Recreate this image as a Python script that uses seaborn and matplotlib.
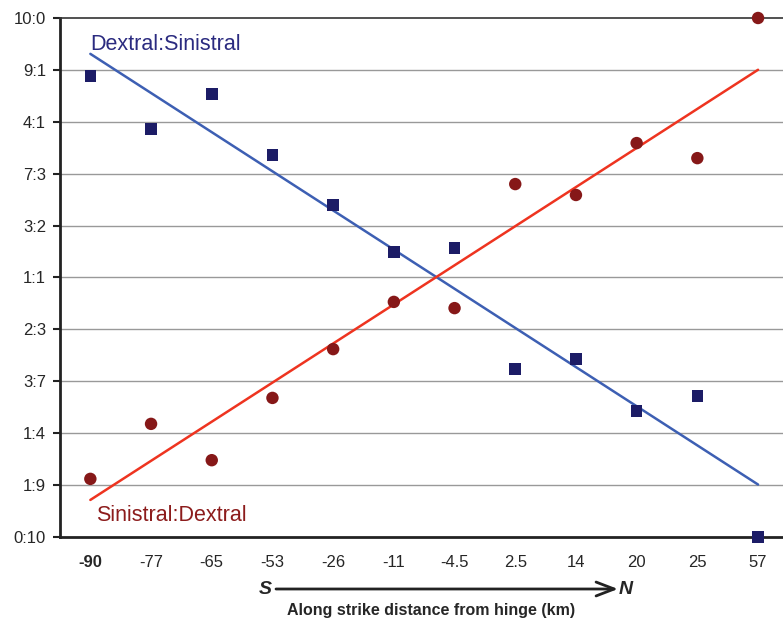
import numpy as np
import pandas as pd
import matplotlib.pyplot as plt
import seaborn as sns

distance = ["-90", "-77", "-65", "-53", "-26", "-11", "-4.5", "2.5", "14", "20", "25", "57"]
dextral_sinistral = [8.88, 7.86, 8.54, 7.36, 6.40, 5.49, 5.57, 3.24, 3.43, 2.43, 2.72, 0.0]
sinistral_dextral = [1.12, 2.18, 1.48, 2.68, 3.62, 4.53, 4.41, 6.80, 6.59, 7.59, 7.30, 10.0]
ratio_labels = ["0:10", "1:9", "1:4", "3:7", "2:3", "1:1", "3:2", "7:3", "4:1", "9:1", "10:0"]

df = pd.DataFrame({
    "pos": np.arange(len(distance)),
    "ds": dextral_sinistral,
    "sd": sinistral_dextral,
})

sns.set_style("white")
plt.rcParams["font.family"] = ["Liberation Sans", "DejaVu Sans"]

fig = plt.figure(figsize=(7.83, 6.21), dpi=100)
ax = fig.add_axes([60 / 783, 84 / 621, 723 / 783, 519 / 621])

for v in range(1, 10):
    ax.axhline(v, color="#999999", lw=1, zorder=0)

sns.regplot(data=df, x="pos", y="ds", ci=None, scatter=False, truncate=True,
            line_kws={"color": "#3d5fb3", "lw": 1.8}, ax=ax)
sns.regplot(data=df, x="pos", y="sd", ci=None, scatter=False, truncate=True,
            line_kws={"color": "#ee3420", "lw": 1.8}, ax=ax)
sns.scatterplot(data=df, x="pos", y="ds", marker="s", s=70, color="#1c1c66",
                edgecolor="none", ax=ax, zorder=5, clip_on=False)
sns.scatterplot(data=df, x="pos", y="sd", marker="o", s=80, color="#861818",
                edgecolor="none", ax=ax, zorder=5, clip_on=False)

ax.set_xlim(-0.5, -0.5 + 723 / 60.7)
ax.set_ylim(0, 10)
ax.set_yticks(range(11))
ax.set_yticklabels(ratio_labels, fontsize=12)
ax.set_xticks(df["pos"])
ax.set_xticklabels(distance, fontsize=12)
ax.get_xticklabels()[0].set_fontweight("bold")
ax.set_xticks(np.arange(-0.5, 11.5, 1), minor=True)
ax.tick_params(axis="x", which="major", length=0, pad=13)
ax.tick_params(axis="x", which="minor", length=5, width=1.5, color="#222222", direction="out")
ax.tick_params(axis="y", length=5, width=1.5, color="#222222", direction="out", left=True, pad=5)
ax.set_xlabel("")
ax.set_ylabel("")

for side in ["left", "bottom"]:
    ax.spines[side].set_color("#222222")
    ax.spines[side].set_linewidth(2)
ax.spines["top"].set_color("#333333")
ax.spines["top"].set_linewidth(1.2)
ax.spines["right"].set_visible(False)

ax.text(0, 9.48, "Dextral:Sinistral", color="#2b2b80", fontsize=15.5, va="center", ha="left")
ax.text(0.1, 0.42, "Sinistral:Dextral", color="#8c1c1c", fontsize=15.5, va="center", ha="left")

y_arrow = 1 - 589 / 621
fig.text(265 / 783, y_arrow, "S", fontsize=14, fontweight="bold", fontstyle="italic",
         ha="center", va="center")
fig.text(626 / 783, y_arrow, "N", fontsize=14, fontweight="bold", fontstyle="italic",
         ha="center", va="center")
ax.annotate("", xy=(618 / 783, y_arrow), xytext=(276 / 783, y_arrow),
            xycoords="figure fraction", textcoords="figure fraction",
            arrowprops=dict(arrowstyle="->,head_length=1.3,head_width=0.5",
                            color="#222222", lw=2, shrinkA=0, shrinkB=0))
fig.text(431 / 783, 1 - 611 / 621, "Along strike distance from hinge (km)", fontsize=11.5,
         fontweight="bold", ha="center", va="center")

fig.savefig("out.png", dpi=100)
